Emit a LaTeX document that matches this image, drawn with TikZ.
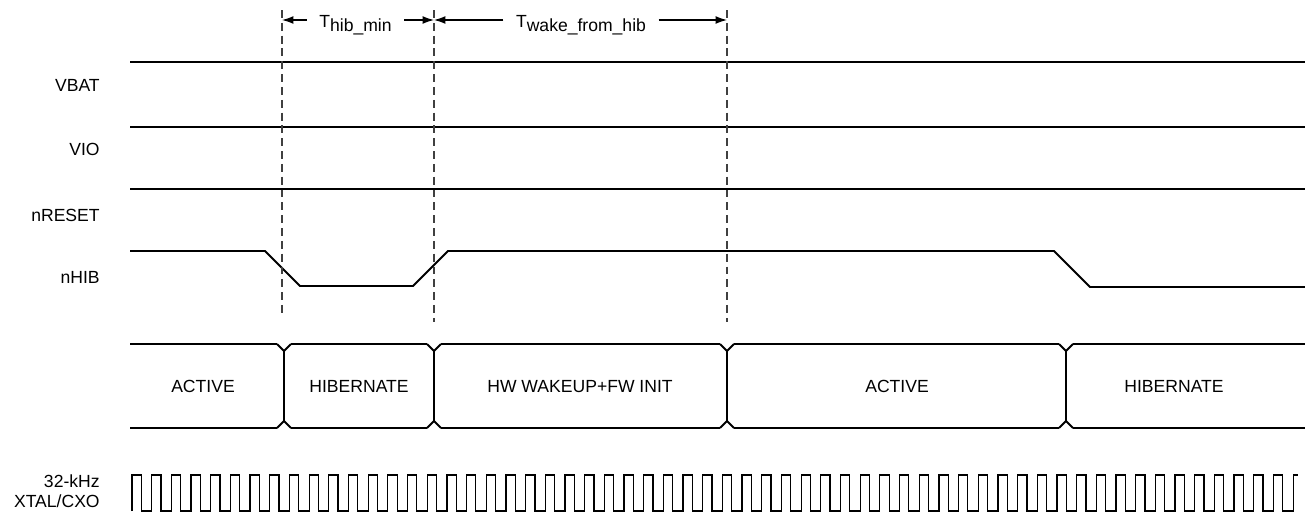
\documentclass[tikz,border=0pt]{standalone}
\usepackage{fontspec}
\setmainfont{Liberation Sans}
\usepackage{tikz}
\usetikzlibrary{positioning, arrows.meta}

\tikzset{
  sig/.style={line width=1.1pt, line join=round},
  guide/.style={line width=0.6pt, color=black!75, dash pattern=on 4.5pt off 2.8pt},
  dim/.style={line width=0.7pt, -{Latex[length=6.5pt, width=4.5pt]}},
  clk/.style={line width=0.7pt},
  siglbl/.style={anchor=base east, inner sep=0pt, font=\fontsize{10}{12}\selectfont},
  statelbl/.style={anchor=base, inner sep=0pt, font=\fontsize{10}{12}\selectfont},
  dimlbl/.style={anchor=base, inner xsep=7pt, inner ysep=0pt, font=\fontsize{10}{12}\selectfont}
}

\begin{document}
\begin{tikzpicture}[x=0.02cm, y=-0.02cm]
    \useasboundingbox (0,0) rectangle (1305,514);
    % signal names
    \node[siglbl] (vbat) at (100,91) {VBAT};
    \node[siglbl] (vio) at (100,155) {VIO};
    \node[siglbl] (nreset) at (100,221) {nRESET};
    \node[siglbl] (nhib) at (100,283) {nHIB};
    \node[siglbl] (clkf) at (100,487) {32-kHz};
    \node[siglbl] (clksrc) at (100,507) {XTAL/CXO};
    %
    \draw[sig] (130,62) -- (1305,62);
    \draw[sig] (130,127) -- (1305,127);
    \draw[sig] (130,189) -- (1305,189);
    \draw[sig] (130,251) -- (265,251) -- (300,286) -- (413,286) -- (448,251)
        -- (1054,251) -- (1090,287) -- (1305,287);
    % timing markers
    \coordinate (g1) at (282,20);
    \coordinate (g2) at (434,20);
    \coordinate (g3) at (727,20);
    \draw[guide] (g1) ++(0,-10) -- ++(0,306);
    \draw[guide] (g2) ++(0,-10) -- ++(0,312);
    \draw[guide] (g3) ++(0,-10) -- ++(0,312);
    %
    \node[dimlbl] (thib) at (355.5,27) {T\raisebox{-2.8pt}{hib\_min}};
    \node[dimlbl] (twake) at (581,27) {T\raisebox{-2.8pt}{wake\_from\_hib}};
    \draw[dim] (thib.west |- g1) -- (g1);
    \draw[dim] (thib.east |- g2) -- (g2);
    \draw[dim] (twake.west |- g2) -- (g2);
    \draw[dim] (twake.east |- g3) -- (g3);
    % state bus
    \foreach \a/\b in {130/277, 291/427, 441/720, 734/1059, 1073/1305} {
      \draw[sig] (\a,344) -- (\b,344);
      \draw[sig] (\a,428) -- (\b,428);
    }
    \foreach \t in {284, 434, 727, 1066} {
      \draw[sig] (\t-7,344) -- (\t,351) -- (\t+7,344);
      \draw[sig] (\t-7,428) -- (\t,421) -- (\t+7,428);
      \draw[sig] (\t,351) -- (\t,421);
    }
    \node[statelbl] (act1) at (203,392) {ACTIVE};
    \node[statelbl] (hib1) at (359,392) {HIBERNATE};
    \node[statelbl] (wake) at (580,392) {HW WAKEUP+FW INIT};
    \node[statelbl] (act2) at (897,392) {ACTIVE};
    \node[statelbl] (hib2) at (1174,392) {HIBERNATE};
    % 32 kHz clock
    \draw[clk] (132,511) \foreach \k in {1,...,59} {
        -- ++(0,-36) -- ++(9.3,0) -- ++(0,36) -- ++(10.38,0) }
        -- ++(0,-36) -- ++(5,0);
\end{tikzpicture}
\end{document}
